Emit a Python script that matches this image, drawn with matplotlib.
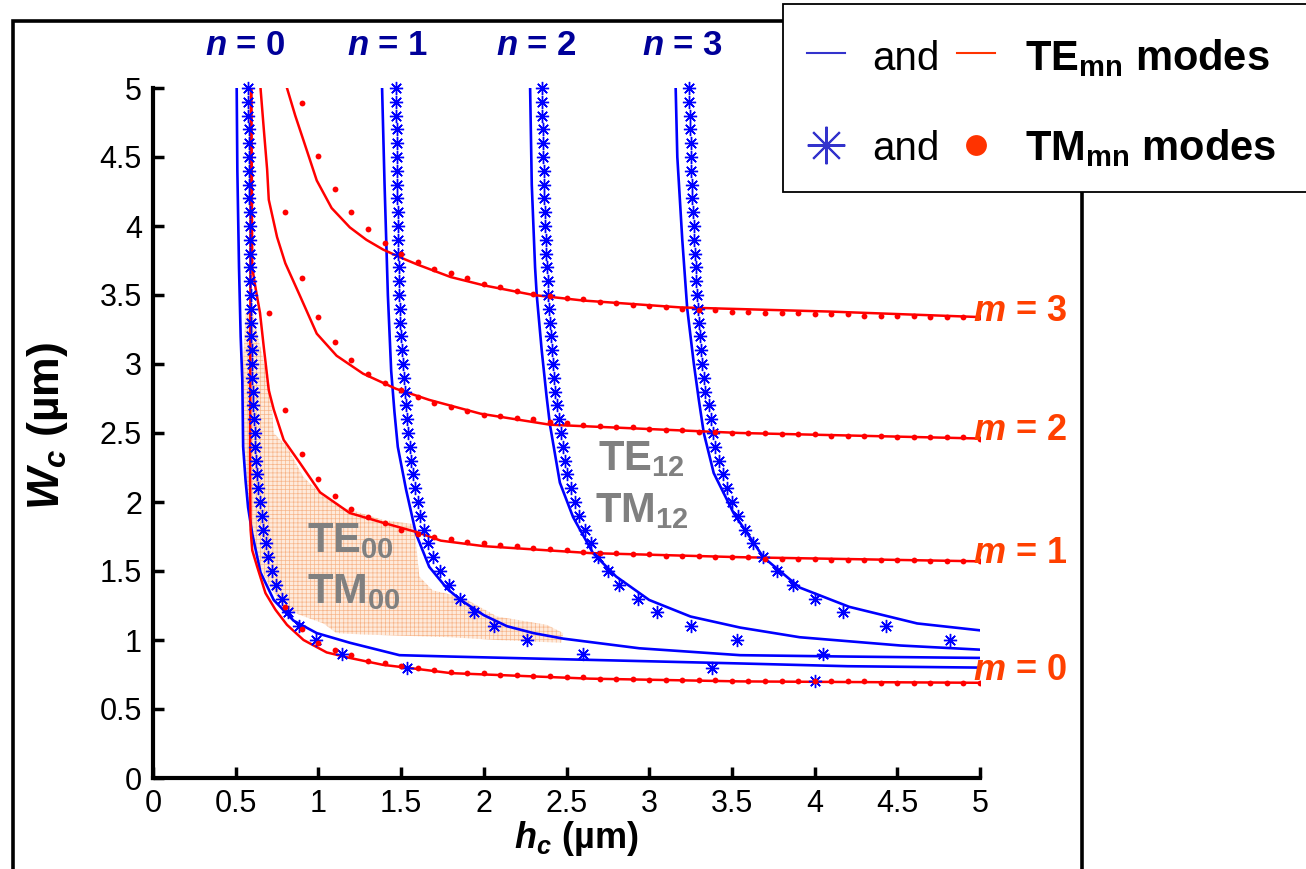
import numpy as np
import matplotlib.pyplot as plt
from matplotlib.patches import Polygon, Rectangle
from matplotlib.lines import Line2D

plt.rcParams['font.family'] = ['Liberation Sans', 'DejaVu Sans']
plt.rcParams['mathtext.fontset'] = 'custom'
plt.rcParams['mathtext.rm'] = 'Liberation Sans'
plt.rcParams['mathtext.it'] = 'Liberation Sans:italic'
plt.rcParams['mathtext.bf'] = 'Liberation Sans:bold'
plt.rcParams['mathtext.bfit'] = 'Liberation Sans:italic:bold'
plt.rcParams['hatch.linewidth'] = 0.5

# ---- TE modes (solid lines): h_c vs W_c ----
te_n0_h = [0.506, 0.51, 0.52, 0.53, 0.54, 0.545, 0.56, 0.575, 0.60, 0.65, 0.73, 0.85, 0.99, 1.19, 1.49, 1.80, 2.50, 3.55, 4.20, 5.00]
te_n0_w = [5.00, 4.40, 3.70, 3.20, 2.88, 2.40, 2.15, 1.96, 1.77, 1.49, 1.29, 1.14, 1.05, 0.98, 0.89, 0.88, 0.86, 0.83, 0.81, 0.80]
te_n1_h = [1.385, 1.40, 1.42, 1.44, 1.46, 1.48, 1.53, 1.59, 1.67, 1.78, 1.86, 2.00, 2.14, 2.30, 2.48, 2.94, 3.55, 4.20, 5.00]
te_n1_w = [5.00, 4.30, 3.50, 2.95, 2.65, 2.40, 2.09, 1.77, 1.53, 1.37, 1.29, 1.18, 1.10, 1.05, 1.01, 0.94, 0.89, 0.88, 0.87]
te_n2_h = [2.28, 2.29, 2.31, 2.32, 2.35, 2.38, 2.40, 2.46, 2.54, 2.66, 2.80, 3.00, 3.25, 3.55, 3.91, 4.52, 5.00]
te_n2_w = [5.00, 4.30, 3.70, 3.50, 3.10, 2.76, 2.56, 2.14, 1.89, 1.63, 1.46, 1.29, 1.17, 1.09, 1.02, 0.96, 0.93]
te_n3_h = [3.16, 3.17, 3.20, 3.23, 3.27, 3.30, 3.33, 3.39, 3.51, 3.69, 3.91, 4.21, 4.62, 5.00]
te_n3_w = [5.00, 4.50, 3.90, 3.40, 3.00, 2.74, 2.50, 2.21, 1.92, 1.60, 1.38, 1.24, 1.12, 1.07]

te_m0_h = [0.592, 0.588, 0.587, 0.59, 0.60, 0.63, 0.68, 0.74, 0.81, 0.91, 1.05, 1.19, 1.39, 1.60, 1.80, 2.64, 3.55, 5.00]
te_m0_w = [5.00, 3.00, 2.16, 1.80, 1.65, 1.53, 1.34, 1.22, 1.11, 1.00, 0.91, 0.87, 0.82, 0.79, 0.76, 0.72, 0.70, 0.69]
te_m1_h = [0.595, 0.60, 0.62, 0.647, 0.67, 0.70, 0.73, 0.79, 0.89, 1.01, 1.19, 1.39, 1.60, 1.74, 2.00, 2.64, 3.55, 5.00]
te_m1_w = [5.00, 3.70, 3.55, 3.37, 3.12, 2.81, 2.67, 2.45, 2.28, 2.07, 1.92, 1.85, 1.78, 1.72, 1.68, 1.63, 1.60, 1.57]
te_m2_h = [0.65, 0.67, 0.69, 0.70, 0.75, 0.80, 0.89, 0.99, 1.11, 1.27, 1.47, 1.67, 1.98, 2.40, 3.55, 5.00]
te_m2_w = [5.00, 4.70, 4.41, 4.19, 3.92, 3.73, 3.49, 3.22, 3.06, 2.93, 2.82, 2.74, 2.64, 2.56, 2.50, 2.46]
te_m3_h = [0.81, 0.86, 0.91, 0.99, 1.08, 1.19, 1.29, 1.39, 1.50, 1.60, 1.80, 2.00, 2.30, 2.60, 3.19, 4.09, 5.00]
te_m3_w = [5.00, 4.80, 4.62, 4.33, 4.13, 3.99, 3.90, 3.83, 3.77, 3.72, 3.63, 3.57, 3.50, 3.46, 3.41, 3.38, 3.34]

w_grid = [5.0, 4.9, 4.8, 4.7, 4.6, 4.5, 4.4, 4.3, 4.2, 4.1, 4.0, 3.9, 3.8, 3.7, 3.6,
          3.5, 3.4, 3.3, 3.2, 3.1, 3.0, 2.9, 2.8, 2.7, 2.6, 2.5, 2.4, 2.3, 2.2, 2.1,
          2.0, 1.9, 1.8, 1.7, 1.6, 1.5, 1.4, 1.3, 1.2, 1.1, 1.0, 0.9, 0.8, 0.7]
tm_n0_h = [0.575, 0.576, 0.577, 0.578, 0.579, 0.580, 0.581, 0.582, 0.583, 0.584, 0.585,
           0.586, 0.587, 0.588, 0.589, 0.590, 0.591, 0.592, 0.594, 0.596, 0.598, 0.600,
           0.603, 0.606, 0.610, 0.614, 0.618, 0.623, 0.629, 0.636, 0.645, 0.656, 0.668,
           0.681, 0.698, 0.719, 0.745, 0.778, 0.815, 0.885, 0.985, 1.145, 1.535, 4.00]
tm_n1_h = [1.468, 1.470, 1.472, 1.473, 1.474, 1.475, 1.476, 1.477, 1.478, 1.479, 1.480,
           1.482, 1.484, 1.486, 1.488, 1.490, 1.493, 1.496, 1.500, 1.505, 1.510, 1.515,
           1.521, 1.528, 1.535, 1.543, 1.552, 1.562, 1.573, 1.586, 1.600, 1.617, 1.637,
           1.660, 1.690, 1.735, 1.790, 1.855, 1.940, 2.060, 2.260, 2.600, 3.380]
tm_n2_h = [2.350, 2.352, 2.354, 2.356, 2.358, 2.360, 2.362, 2.364, 2.366, 2.368, 2.370,
           2.374, 2.378, 2.382, 2.386, 2.390, 2.395, 2.400, 2.406, 2.412, 2.418, 2.424,
           2.430, 2.440, 2.452, 2.465, 2.480, 2.492, 2.505, 2.525, 2.550, 2.578, 2.610,
           2.648, 2.690, 2.750, 2.820, 2.930, 3.050, 3.250, 3.530, 4.050]
tm_n3_h = [3.240, 3.242, 3.245, 3.247, 3.250, 3.252, 3.255, 3.257, 3.260, 3.264, 3.268,
           3.272, 3.276, 3.280, 3.285, 3.290, 3.296, 3.302, 3.308, 3.315, 3.322, 3.330,
           3.340, 3.360, 3.372, 3.385, 3.400, 3.420, 3.445, 3.470, 3.500, 3.538, 3.580,
           3.630, 3.690, 3.770, 3.870, 4.000, 4.170, 4.430, 4.820]

h_grid = [0.7, 0.8, 0.9, 1.0, 1.1, 1.2, 1.3, 1.4, 1.5, 1.6, 1.7, 1.8, 1.9, 2.0, 2.1,
          2.2, 2.3, 2.4, 2.5, 2.6, 2.7, 2.8, 2.9, 3.0, 3.1, 3.2, 3.3, 3.4, 3.5, 3.6,
          3.7, 3.8, 3.9, 4.0, 4.1, 4.2, 4.3, 4.4, 4.5, 4.6, 4.7, 4.8, 4.9, 5.0]
tm_m0_w = [1.24, 1.08, 0.98, 0.93, 0.89, 0.85, 0.83, 0.81, 0.80, 0.78, 0.77, 0.76, 0.76,
           0.75, 0.75, 0.74, 0.74, 0.73, 0.73, 0.72, 0.72, 0.72, 0.71, 0.71, 0.71, 0.71,
           0.71, 0.70, 0.70, 0.70, 0.70, 0.70, 0.70, 0.70, 0.70, 0.70, 0.69, 0.69, 0.69,
           0.69, 0.69, 0.69, 0.69]
tm_m1_w = [3.37, 2.67, 2.35, 2.17, 2.04, 1.95, 1.89, 1.85, 1.80, 1.77, 1.75, 1.73, 1.71,
           1.70, 1.69, 1.68, 1.67, 1.66, 1.65, 1.64, 1.63, 1.63, 1.62, 1.62, 1.61, 1.61,
           1.61, 1.60, 1.60, 1.60, 1.59, 1.59, 1.59, 1.59, 1.58, 1.58, 1.58, 1.58, 1.58,
           1.58, 1.57, 1.57, 1.57, 1.57]
tm_m2_w = [4.10, 3.62, 3.34, 3.16, 3.03, 2.93, 2.86, 2.81, 2.76, 2.72, 2.69, 2.66, 2.63,
           2.62, 2.61, 2.60, 2.58, 2.57, 2.56, 2.55, 2.54, 2.54, 2.53, 2.52, 2.52, 2.51,
           2.51, 2.50, 2.50, 2.50, 2.49, 2.49, 2.49, 2.48, 2.48, 2.48, 2.48, 2.47, 2.47,
           2.47, 2.47, 2.47, 2.46]
tm_m3_w = [4.89, 4.51, 4.27, 4.10, 3.98, 3.88, 3.80, 3.74, 3.69, 3.66, 3.62, 3.58, 3.56,
           3.53, 3.51, 3.49, 3.48, 3.47, 3.45, 3.44, 3.43, 3.42, 3.41, 3.40, 3.39, 3.39,
           3.38, 3.38, 3.37, 3.37, 3.37, 3.36, 3.36, 3.36, 3.35, 3.35, 3.35, 3.35, 3.34,
           3.34, 3.34, 3.34]

# single-mode (TE00/TM00) region outline
region_h = [0.56, 0.60, 0.63, 0.71, 0.73, 0.81, 0.91, 1.03, 1.15, 1.39, 1.57, 1.58, 1.61,
            1.69, 1.87, 2.08, 2.38, 2.48, 2.47, 2.08, 1.80, 1.27, 1.11, 1.03, 0.87, 0.79,
            0.70, 0.64, 0.58, 0.55, 0.545]
region_w = [3.37, 3.41, 3.22, 2.81, 2.50, 2.40, 2.18, 2.04, 1.96, 1.87, 1.84, 1.82, 1.46,
            1.36, 1.31, 1.17, 1.11, 1.05, 0.98, 1.00, 1.02, 1.04, 1.05, 1.12, 1.19, 1.24,
            1.40, 1.55, 1.90, 2.40, 3.00]

ticks = [0, 0.5, 1, 1.5, 2, 2.5, 3, 3.5, 4, 4.5, 5]
tick_labels = ['0', '0.5', '1', '1.5', '2', '2.5', '3', '3.5', '4', '4.5', '5']

n_labels = ['0', '1', '2', '3']
n_label_x = [0.556, 1.42, 2.32, 3.20]
m_labels = ['0', '1', '2', '3']
m_label_y = [0.71, 1.56, 2.45, 3.31]

W, H = 1306, 869
fig = plt.figure(figsize=(W / 100, H / 100), dpi=100)
ax = fig.add_axes([153 / W, 1 - 778 / H, 827 / W, 690 / H])

ax.add_patch(Polygon(np.column_stack([region_h, region_w]), closed=True,
                     facecolor='#feeadb', edgecolor='#f7b58a', hatch='++++',
                     lw=0, zorder=1))

blue = '#0000ff'
red = '#ff0000'
for hh, ww in [(te_n0_h, te_n0_w), (te_n1_h, te_n1_w), (te_n2_h, te_n2_w), (te_n3_h, te_n3_w)]:
    ax.plot(hh, ww, color=blue, lw=1.9, zorder=3)
for hh, ww in [(te_m0_h, te_m0_w), (te_m1_h, te_m1_w), (te_m2_h, te_m2_w), (te_m3_h, te_m3_w)]:
    ax.plot(hh, ww, color=red, lw=1.8, zorder=3)

for hh in [tm_n0_h, tm_n1_h, tm_n2_h, tm_n3_h]:
    ax.plot(hh, w_grid[:len(hh)], ls='none', marker=(8, 2, 0), ms=9.5, mew=1.0,
            color=blue, zorder=4, clip_on=False)
for ww in [tm_m0_w, tm_m1_w, tm_m2_w, tm_m3_w]:
    ax.plot(h_grid[-len(ww):], ww, ls='none', marker='o', ms=4.2, mew=0,
            color=red, zorder=4)

ax.set_xlim(0, 5)
ax.set_ylim(0, 5)
ax.set_xticks(ticks)
ax.set_xticklabels(tick_labels)
ax.set_yticks(ticks)
ax.set_yticklabels(tick_labels)
ax.tick_params(direction='in', length=8, width=2.5, labelsize=22, pad=8)
for s in ['top', 'right']:
    ax.spines[s].set_visible(False)
for s in ['left', 'bottom']:
    ax.spines[s].set_linewidth(3)

ax.set_xlabel(r'$\mathbfit{h_c}$ (µm)', fontsize=26, fontweight='bold')
ax.xaxis.set_label_coords(0.512, -0.06)
ax.set_ylabel(r'$\mathbfit{W_c}$ (µm)', fontsize=32, fontweight='bold')
ax.yaxis.set_label_coords(-0.10, 0.51)

for lab, x in zip(n_labels, n_label_x):
    ax.text(x, 5.24, r'$\mathbfit{n}$ = ' + lab, color='#000099', fontsize=25,
            fontweight='bold', ha='center', va='baseline', clip_on=False)
for lab, y in zip(m_labels, m_label_y):
    ax.text(4.96, y, r'$\mathbfit{m}$ = ' + lab, color='#ff4000', fontsize=26,
            fontweight='bold', ha='left', va='baseline', clip_on=False, zorder=6)

gray = '#808080'
ax.text(0.93, 1.64, r'$\mathbf{TE_{00}}$', color=gray, fontsize=30, va='baseline', zorder=6)
ax.text(0.93, 1.27, r'$\mathbf{TM_{00}}$', color=gray, fontsize=30, va='baseline', zorder=6)
ax.text(2.69, 2.23, r'$\mathbf{TE_{12}}$', color=gray, fontsize=30, va='baseline', zorder=6)
ax.text(2.67, 1.855, r'$\mathbf{TM_{12}}$', color=gray, fontsize=30, va='baseline', zorder=6)

# outer frame
fig.add_artist(Rectangle((13 / W, -0.1), (1082 - 13) / W, 1.1 - 21 / H,
                         transform=fig.transFigure, fill=False, lw=2.6, ec='black'))

# legend box (drawn by hand because of the "and" layout)
fig.add_artist(Rectangle((783 / W, 1 - 192 / H), 0.5, 188 / H, transform=fig.transFigure,
                         facecolor='white', edgecolor='black', lw=1.3, zorder=10))
tf = fig.transFigure
y1, y2 = 1 - 53 / H, 1 - 145 / H
fig.add_artist(Line2D([807 / W, 845 / W], [y1, y1], color='#3333cc', lw=1.5, transform=tf, zorder=11))
fig.add_artist(Line2D([957 / W, 995 / W], [y1, y1], color='#ff3300', lw=1.5, transform=tf, zorder=11))
fig.add_artist(Line2D([826 / W], [y2], marker=(8, 2, 0), ms=27, mew=1.5, color='#3333cc',
                      transform=tf, zorder=11))
fig.add_artist(Line2D([976 / W], [y2], marker='o', ms=15, mew=0, color='#ff3300',
                      transform=tf, zorder=11))
fig.text(872 / W, 1 - 70 / H, 'and', fontsize=29, va='baseline', zorder=12)
fig.text(872 / W, 1 - 160 / H, 'and', fontsize=29, va='baseline', zorder=12)
fig.text(1025 / W, 1 - 70 / H, r'$\mathbf{TE_{mn}}$ modes', fontsize=30, fontweight='bold',
         va='baseline', zorder=12)
fig.text(1025 / W, 1 - 160 / H, r'$\mathbf{TM_{mn}}$ modes', fontsize=30, fontweight='bold',
         va='baseline', zorder=12)

fig.savefig('out.png', dpi=100, facecolor='white')
